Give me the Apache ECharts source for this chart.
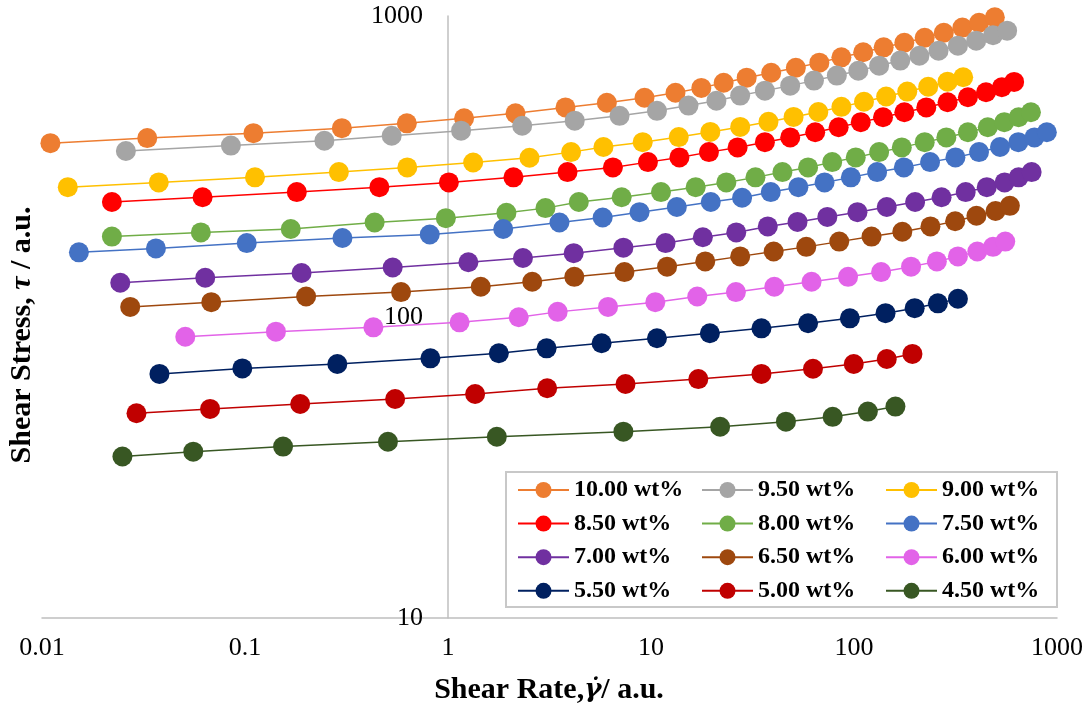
<!DOCTYPE html>
<html>
<head>
<meta charset="utf-8">
<script src="https://cdn.jsdelivr.net/npm/echarts@6/dist/echarts.min.js"></script>
<style>
  html, body { margin: 0; padding: 0; background: #ffffff; }
  #chart { width: 1089px; height: 713px; }
</style>
</head>
<body>
<div id="chart"></div>
<script>
// Flow curves: shear stress vs shear rate for each concentration
const rate1000   = [0.011, 0.033, 0.110, 0.300, 0.627, 1.20, 2.15, 3.79, 6.06, 9.29, 13.2, 17.7, 22.8, 29.6, 39.1, 51.7, 67.5, 86.7, 111, 140, 177, 223, 277, 342, 413, 494];
const stress1000 = [378, 393, 408, 424, 440, 457, 475, 497, 515, 535, 556, 577, 600, 624, 648, 673, 700, 729, 758, 787, 815, 847, 880, 915, 950, 990];

const rate950   = [0.0259, 0.0852, 0.246, 0.528, 1.16, 2.32, 4.21, 7.00, 10.7, 15.3, 21.0, 27.5, 36.4, 48.5, 63.5, 82.3, 105, 133, 169, 210, 261, 325, 400, 484, 568];
const stress950 = [356, 371, 385, 400, 416, 432, 449, 466, 484, 504, 523, 544, 565, 587, 610, 634, 658, 684, 711, 738, 767, 797, 828, 863, 894];

const rate900   = [0.0134, 0.0376, 0.112, 0.290, 0.630, 1.33, 2.52, 4.04, 5.83, 9.10, 13.7, 19.6, 27.5, 37.9, 50.4, 66.7, 86.7, 112, 144, 183, 232, 289, 345];
const stress900 = [270, 280, 291, 303, 314, 326, 338, 353, 367, 381, 396, 412, 428, 445, 462, 480, 499, 519, 540, 561, 582, 605, 626];

const rate850   = [0.0221, 0.0618, 0.180, 0.459, 1.01, 2.10, 3.88, 6.49, 9.66, 13.8, 19.3, 26.7, 36.4, 48.5, 64.4, 84.0, 108, 139, 177, 227, 289, 364, 447, 535, 615];
const stress850 = [241, 250, 260, 270, 280, 291, 303, 314, 327, 339, 353, 366, 381, 395, 411, 427, 444, 461, 479, 497, 517, 537, 558, 580, 604];

const rate800   = [0.0221, 0.0606, 0.168, 0.435, 0.976, 1.94, 3.02, 4.41, 7.17, 11.2, 16.6, 23.5, 32.7, 44.4, 59.4, 78.1, 102, 133, 172, 223, 285, 364, 456, 550, 647, 744];
const stress800 = [185, 191, 196, 206, 213, 222, 230, 241, 250, 260, 270, 280, 291, 303, 314, 327, 339, 353, 366, 381, 395, 411, 427, 444, 461, 479];

const rate750   = [0.0152, 0.0364, 0.102, 0.302, 0.813, 1.87, 3.54, 5.78, 8.78, 13.4, 19.7, 28.1, 38.9, 53.2, 71.6, 96.5, 130, 176, 237, 316, 413, 524, 645, 774, 891];
const stress750 = [164, 169, 176, 183, 188, 196, 206, 214, 223, 232, 241, 249, 260, 270, 280, 291, 303, 314, 327, 339, 353, 367, 381, 395, 411];

const rate700   = [0.0243, 0.0637, 0.190, 0.534, 1.26, 2.34, 4.16, 7.31, 11.8, 18.0, 26.3, 37.6, 52.7, 73.9, 104, 145, 200, 270, 355, 451, 552, 647, 750];
const stress700 = [130, 135, 140, 146, 152, 157, 163, 170, 176, 184, 191, 200, 207, 215, 223, 232, 241, 250, 260, 270, 280, 291, 303];

const rate650   = [0.0272, 0.0682, 0.200, 0.587, 1.45, 2.60, 4.19, 7.40, 12.0, 18.5, 27.5, 40.2, 58.2, 84.6, 122, 173, 238, 315, 401, 498, 586];
const stress650 = [108, 112, 117, 121, 126, 131, 136, 141, 147, 153, 159, 165, 171, 178, 185, 192, 200, 208, 217, 225, 234];

const rate600   = [0.0508, 0.142, 0.429, 1.14, 2.23, 3.47, 6.14, 10.5, 16.9, 26.2, 40.5, 61.8, 93.5, 136, 191, 256, 325, 405, 484, 556];
const stress600 = [86.0, 89.4, 92.4, 96.0, 99.8, 104, 108, 112, 117, 121, 126, 131, 136, 141, 147, 153, 159, 165, 171, 178];

const rate550   = [0.0379, 0.0970, 0.285, 0.819, 1.78, 3.06, 5.71, 10.7, 19.5, 35.0, 59.4, 95.4, 143, 199, 259, 325];
const stress550 = [64.7, 67.5, 69.8, 72.9, 75.8, 78.7, 81.8, 85.0, 88.3, 91.7, 95.3, 99.0, 103, 107, 111, 115];

const rate500   = [0.0292, 0.0673, 0.187, 0.549, 1.36, 3.08, 7.49, 17.1, 35.0, 62.8, 99.7, 145, 194];
const stress500 = [47.9, 49.5, 51.4, 53.4, 55.5, 58.0, 59.9, 62.2, 64.7, 67.3, 69.8, 72.5, 75.4];

const rate450   = [0.0249, 0.0556, 0.154, 0.506, 1.74, 7.31, 21.9, 46.2, 78.5, 117, 160];
const stress450 = [34.4, 35.7, 37.1, 38.5, 40.0, 41.6, 43.2, 44.9, 46.6, 48.5, 50.4];

const seriesNames = ['10.00 wt%', '9.50 wt%', '9.00 wt%', '8.50 wt%', '8.00 wt%', '7.50 wt%',
                     '7.00 wt%', '6.50 wt%', '6.00 wt%', '5.50 wt%', '5.00 wt%', '4.50 wt%'];
const seriesColors = ['#ED7D31', '#A5A5A5', '#FFC000', '#FF0000', '#70AD47', '#4472C4',
                      '#7030A0', '#9E480E', '#E263E8', '#002060', '#C00000', '#385723'];
const rates    = [rate1000, rate950, rate900, rate850, rate800, rate750, rate700, rate650, rate600, rate550, rate500, rate450];
const stresses = [stress1000, stress950, stress900, stress850, stress800, stress750, stress700, stress650, stress600, stress550, stress500, stress450];

const SERIF = "'Liberation Serif', 'Times New Roman', serif";

const series = seriesNames.map((name, i) => ({
  name: name,
  type: 'line',
  data: rates[i].map((r, k) => [r, stresses[i][k]]),
  symbol: 'circle',
  symbolSize: 20,
  showSymbol: true,
  itemStyle: { color: seriesColors[i] },
  lineStyle: { color: seriesColors[i], width: 1.5 },
  emphasis: { disabled: true },
  silent: true
}));

// legend laid out as three columns of four entries
const legendColumns = [[0, 3, 6, 9], [1, 4, 7, 10], [2, 5, 8, 11]];
const legendLeft = [517, 701, 885];
const legends = legendColumns.map((col, c) => ({
  orient: 'vertical',
  left: legendLeft[c],
  top: 478,
  padding: 0,
  itemGap: 9.6,
  itemWidth: 51,
  itemHeight: 20,
  selectedMode: false,
  data: col.map(i => seriesNames[i]),
  textStyle: { fontFamily: SERIF, fontWeight: 'bold', fontSize: 24, color: '#000' },
  z: 5
}));

const fmtNum = v => String(parseFloat(Number(v).toPrecision(6)));

const titleRich = {
  b: { fontFamily: SERIF, fontWeight: 'bold', fontSize: 30, fill: '#000' },
  i: { fontFamily: SERIF, fontWeight: 'bold', fontStyle: 'italic', fontSize: 30, fill: '#000' },
  g: { fontFamily: "'DejaVu Serif', serif", fontWeight: 'bold', fontStyle: 'italic', fontSize: 26, fill: '#000' }
};

const chart = echarts.init(document.getElementById('chart'));
chart.setOption({
  animation: false,
  backgroundColor: '#ffffff',
  grid: { left: 42, right: 32, top: 16, bottom: 95, containLabel: false },
  xAxis: {
    type: 'log', logBase: 10, min: 0.01, max: 1000,
    axisLine: { show: true, onZero: false, lineStyle: { color: '#BFBFBF', width: 1.5 } },
    axisTick: { show: false },
    splitLine: { show: false },
    axisLabel: { margin: 17, fontFamily: SERIF, fontSize: 26, color: '#000', formatter: fmtNum }
  },
  yAxis: {
    type: 'log', logBase: 10, min: 10, max: 1000,
    offset: -406,
    axisLine: { show: true, onZero: false, lineStyle: { color: '#BFBFBF', width: 1.5 } },
    axisTick: { show: false },
    splitLine: { show: false },
    axisLabel: { margin: 25, fontFamily: SERIF, fontSize: 26, color: '#000', formatter: fmtNum }
  },
  legend: legends,
  graphic: [
    {
      type: 'rect', z: 3,
      shape: { x: 506, y: 472, width: 551, height: 135 },
      style: { fill: '#ffffff', stroke: '#C8C8C8', lineWidth: 2 }
    },
    {
      type: 'text', x: 549, y: 690,
      style: {
        text: '{b|Shear Rate,}{g|γ̇}{b|/ a.u.}',
        align: 'center', verticalAlign: 'middle',
        rich: titleRich
      }
    },
    {
      type: 'text', x: 22, y: 335, rotation: Math.PI / 2,
      style: {
        text: '{b|Shear Stress, }{i|τ}{b| / a.u.}',
        align: 'center', verticalAlign: 'middle',
        rich: titleRich
      }
    }
  ],
  series: series
});
</script>
</body>
</html>
